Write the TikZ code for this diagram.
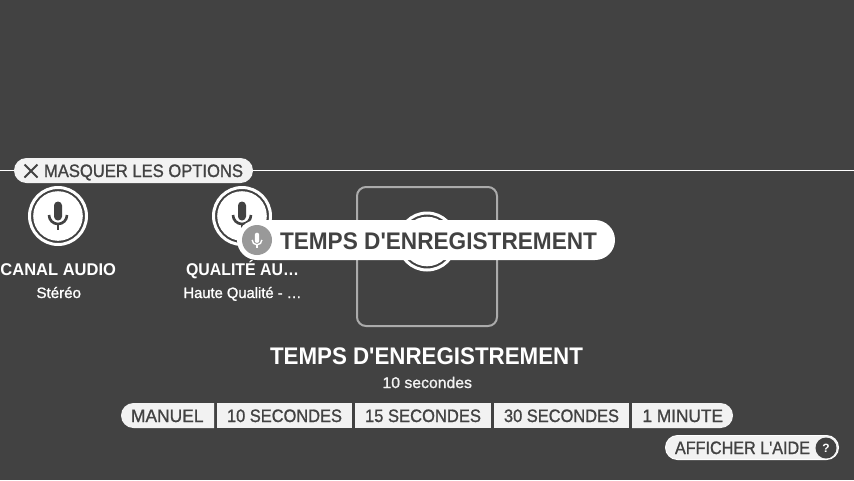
\documentclass[tikz,border=0pt]{standalone}
\usepackage{fontspec}
\usepackage{graphicx}
\setmainfont{Liberation Sans}
\newfontfamily\regfont[FakeBold=1.2]{Liberation Sans}
\newfontfamily\medfont[BoldFont={Liberation Sans Bold}]{Liberation Sans}
\definecolor{bgdark}{HTML}{424242}
\definecolor{pillgrey}{HTML}{F2F2F2}
\definecolor{boxgrey}{HTML}{ABABAB}
\definecolor{micgrey}{HTML}{999999}
\newcommand{\fitw}[2]{\resizebox{#1pt}{\height}{#2}}
\newcommand{\micglyph}[4]{% x, y, scale, colour
  \begin{scope}[shift={(#1,#2)},scale=#3]
    \fill[#4,rounded corners=3.95*#3 pt] (-4,-14.5) rectangle (4,4.5);
    \draw[#4,line width=2.6*#3 pt] (-9,-1) arc[start angle=180,end angle=0,radius=9];
    \draw[#4,line width=2.6*#3 pt] (0,8) -- (0,14);
  \end{scope}}
\newcommand{\micdisc}[2]{% x, y
  \draw[white,line width=3pt] (#1,#2) circle[radius=28.5];
  \fill[white] (#1,#2) circle[radius=24.8];
  \micglyph{#1}{#2}{1}{bgdark}}
\tikzset{
  x=1pt,y=-1pt,
  lbl/.style={anchor=base west,inner sep=0pt,outer sep=0pt,text=bgdark},
  lblw/.style={lbl,text=white},
  pill/.style={fill=pillgrey,draw=none},
}
\begin{document}
\begin{tikzpicture}
\useasboundingbox (0,0) rectangle (854,480);
\fill[bgdark] (0,0) rectangle (854,480);
% separator
\coordinate (ruleL) at (0,170.5);
\coordinate (ruleR) at (854,170.5);
\draw[white,line width=0.9pt] (ruleL) -- (ruleR);
% hide options pill
\fill[pill,rounded corners=12.5pt] (14,158) rectangle (253,183);
\draw[bgdark,line width=2pt] (24.5,164.5) -- (37.5,177.5) (37.5,164.5) -- (24.5,177.5);
\node[lbl] (hide) at (44,177) {\fontsize{18}{20}\regfont\fitw{199}{MASQUER LES OPTIONS}};
% mic options
\micdisc{58}{216}
\micdisc{242}{216}
\draw[boxgrey,line width=2pt,rounded corners=9pt] (357,187) rectangle (497,326);
\micdisc{427}{241.5}
% overlay pill
\fill[white,rounded corners=20pt] (237,220) rectangle (615,260);
\fill[micgrey] (257,240) circle[radius=15];
\micglyph{257}{240.5}{0.54}{white}
\node[lbl] (ttip) at (280,249) {\fontsize{24}{26}\medfont\bfseries\fitw{317}{TEMPS D'ENREGISTREMENT}};
% option labels
\node[lblw] (canal) at (0.5,275.5) {\fontsize{17}{19}\medfont\bfseries\fitw{115.5}{CANAL AUDIO}};
\node[lblw] (stereo) at (36.5,298) {\fontsize{15}{17}\regfont\fitw{44.5}{Stéréo}};
\node[lblw] (qual) at (186,275.5) {\fontsize{17}{19}\medfont\bfseries\fitw{113}{QUALITÉ AU…}};
\node[lblw] (haute) at (183.5,298) {\fontsize{15}{17}\regfont\fitw{118}{Haute Qualité - …}};
% current title
\node[lblw] (title) at (270,364) {\fontsize{24}{26}\medfont\bfseries\fitw{313}{TEMPS D'ENREGISTREMENT}};
\node[lblw,text=pillgrey] (val) at (382.5,388) {\fontsize{15.5}{17}\regfont\fitw{89.5}{10 secondes}};
% segmented buttons
\fill[pill] (214,403) -- (133.5,403) arc[start angle=270,end angle=90,radius=12.5] -- (214,428) -- cycle;
\fill[pill] (217,403) rectangle (352,428);
\fill[pill] (355,403) rectangle (491,428);
\fill[pill] (494,403) rectangle (629,428);
\fill[pill] (632,403) -- (720.5,403) arc[start angle=270,end angle=450,radius=12.5] -- (632,428) -- cycle;
\node[lbl] (b1) at (131,422) {\fontsize{18}{20}\regfont\fitw{72.5}{MANUEL}};
\node[lbl] (b2) at (227,422) {\fontsize{18}{20}\regfont\fitw{115}{10 SECONDES}};
\node[lbl] (b3) at (365,422) {\fontsize{18}{20}\regfont\fitw{116}{15 SECONDES}};
\node[lbl] (b4) at (504,422) {\fontsize{18}{20}\regfont\fitw{115}{30 SECONDES}};
\node[lbl] (b5) at (642.5,422) {\fontsize{18}{20}\regfont\fitw{80.5}{1 MINUTE}};
% help pill
\fill[white,rounded corners=12.5pt] (665,435) rectangle (839,460);
\fill[pill,rounded corners=11.5pt] (666,436) rectangle (838,459);
\node[lbl] (help) at (675,454) {\fontsize{18}{20}\regfont\fitw{135}{AFFICHER L'AIDE}};
\fill[bgdark] (826,448) circle[radius=10.5];
\node[anchor=base,inner sep=0pt,text=white] (q) at (826,452.5) {\fontsize{12}{14}\medfont\bfseries ?};
\end{tikzpicture}
\end{document}
